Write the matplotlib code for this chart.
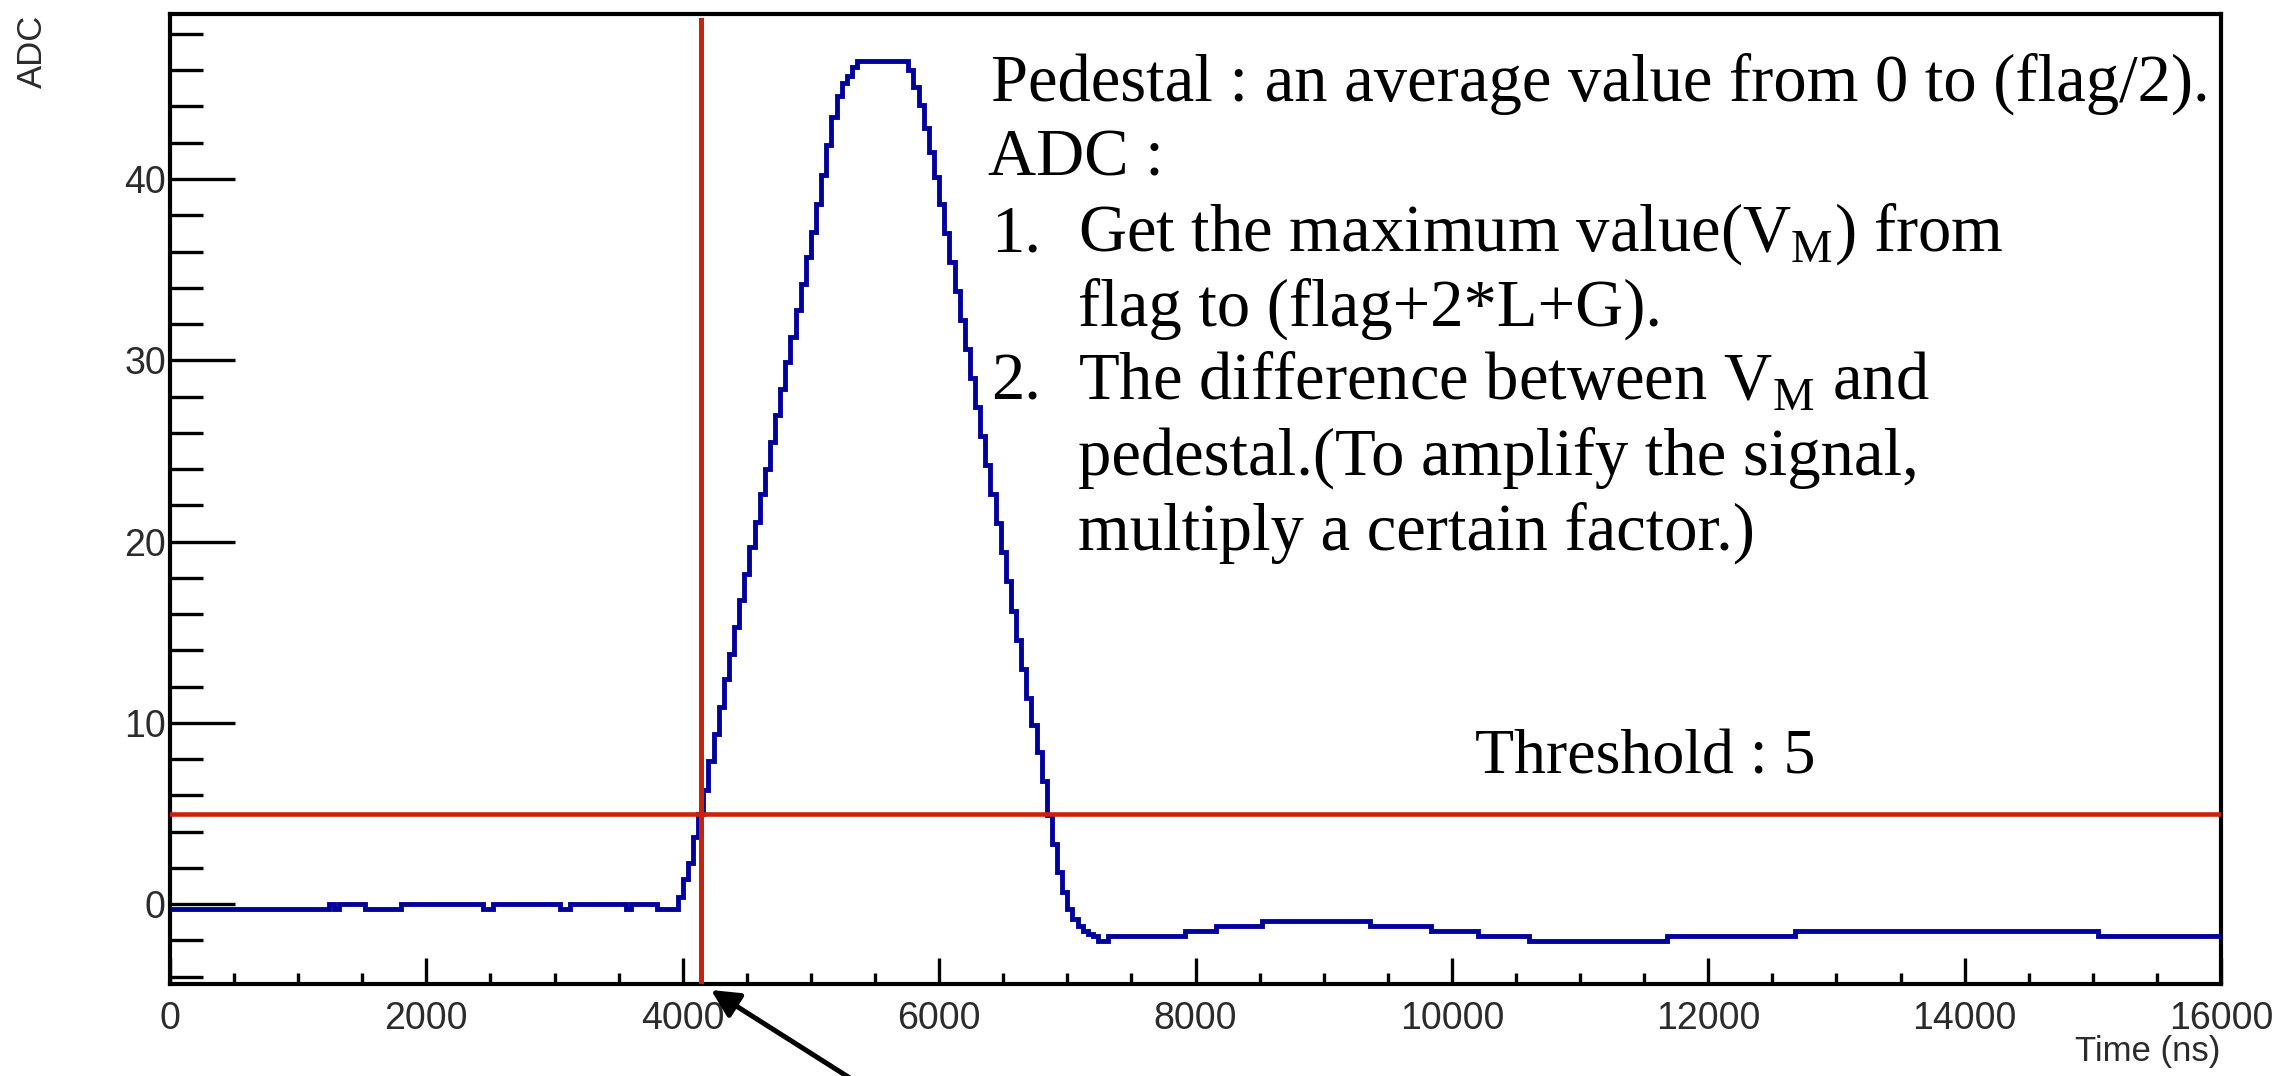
import matplotlib

matplotlib.use("Agg")
import matplotlib.pyplot as plt
from matplotlib.ticker import MultipleLocator

# waveform (ns, ADC); bins are 40 ns wide
baseline_t = [0, 1240, 1280, 1320, 1520, 1800, 2440, 2520, 3040, 3120, 3560, 3600, 3800]
baseline_v = [-0.28, 0.0, -0.28, 0.0, -0.28, 0.0, -0.28, 0.0, -0.28, 0.0, -0.28, 0.0, -0.28]

pulse_start = 3960
bin_ns = 40
rise_v = [0.4, 1.4, 2.3, 3.7, 5.0, 6.3, 7.9, 9.4, 10.9, 12.4, 13.8, 15.3, 16.8, 18.2,
          19.7, 21.1, 22.6, 24.0, 25.5, 27.0, 28.4, 29.9, 31.3, 32.8, 34.2, 35.7,
          37.1, 38.6, 40.2, 41.9, 43.4, 44.6, 45.3, 45.7, 46.2]
top_v = [46.5] * 10
fall_v = [46.0, 45.1, 44.1, 42.8, 41.5, 40.1, 38.6, 37.0, 35.4, 33.8, 32.2, 30.6,
          29.0, 27.4, 25.8, 24.2, 22.6, 21.0, 19.4, 17.8, 16.2, 14.6, 13.0, 11.4,
          9.9, 8.4, 6.8, 4.9, 3.3, 1.75, 0.65, -0.28, -0.83, -1.2, -1.47, -1.66,
          -1.75, -2.03, -2.03]

tail_t = [7320, 7920, 8160, 8520, 9360, 9840, 10200, 10600, 11680, 12680, 15040]
tail_v = [-1.75, -1.47, -1.2, -0.9, -1.2, -1.47, -1.75, -2.03, -1.75, -1.47, -1.75]

t_end = 16000
threshold = 5
flag_t = 4140

BLUE = "#00009c"
RED = "#c82208"
TICK_TXT = "#2b2b2b"

pulse_v = rise_v + top_v + fall_v
pulse_t = [pulse_start + bin_ns * i for i in range(len(pulse_v))]
edges = baseline_t + pulse_t + tail_t + [t_end]
levels = baseline_v + pulse_v + tail_v

plt.rcParams["mathtext.fontset"] = "custom"
plt.rcParams["mathtext.rm"] = "Liberation Serif"

W, H = 2290, 1076
fig = plt.figure(figsize=(W / 100, H / 100), dpi=100, facecolor="white")
ax = fig.add_axes([170 / W, 92 / H, (2221 - 170) / W, (984 - 14) / H])

ax.stairs(levels, edges, color=BLUE, lw=3.5, baseline=None, zorder=3)
ax.axhline(threshold, color=RED, lw=3.3, zorder=4)
ax.axvline(flag_t, ymax=0.994, color=RED, lw=3.6, zorder=4)

ax.set_xlim(0, t_end)
ax.set_ylim(-4.4, 49.1)

ax.xaxis.set_major_locator(MultipleLocator(2000))
ax.xaxis.set_minor_locator(MultipleLocator(500))
ax.yaxis.set_major_locator(MultipleLocator(10))
ax.yaxis.set_minor_locator(MultipleLocator(2))

for s in ax.spines.values():
    s.set_linewidth(3)
ax.tick_params(which="both", direction="in", top=False, right=False, color="black")
ax.tick_params(axis="y", which="major", length=47, width=2.4, pad=3,
               labelsize=27, labelcolor=TICK_TXT)
ax.tick_params(axis="y", which="minor", length=24, width=2.4)
ax.tick_params(axis="x", which="major", length=19, width=2.4, pad=12,
               labelsize=27, labelcolor=TICK_TXT)
ax.tick_params(axis="x", which="minor", length=8, width=2.4)
for lab in ax.get_xticklabels() + ax.get_yticklabels():
    lab.set_family("Liberation Sans")

fig.text(32 / W, 1 - 15 / H, "ADC", rotation=90, ha="center", va="top",
         fontsize=25, color=TICK_TXT, family="Liberation Sans")
fig.text(2220 / W, 1 - 1052 / H, "Time (ns)", ha="right", va="center",
         fontsize=25, color=TICK_TXT, family="Liberation Sans")

serif = dict(family="Liberation Serif", color="black", va="baseline")
lines = [
    (991, 101, "Pedestal : an average value from 0 to (flag/2).", 48),
    (988, 176, "ADC :", 48),
    (991, 251, "1.", 48),
    (1078, 251, r"Get the maximum value($\mathrm{V}_\mathrm{M}$) from", 48),
    (1078, 326, "flag to (flag+2*L+G).", 48),
    (991, 400, "2.", 48),
    (1078, 400, r"The difference between $\mathrm{V}_\mathrm{M}$ and", 48),
    (1078, 475, "pedestal.(To amplify the signal,", 48),
    (1078, 550, "multiply a certain factor.)", 48),
    (1475, 774, "Threshold : 5", 46),
]
for x, y, s, size in lines:
    fig.text(x / W, 1 - y / H, s, fontsize=size, **serif)

ax.annotate("", xy=(711, H - 990), xycoords="figure pixels",
            xytext=(853, H - 1080), textcoords="figure pixels",
            arrowprops=dict(arrowstyle="-|>", lw=3.6, color="black",
                            mutation_scale=42, shrinkA=0, shrinkB=0),
            annotation_clip=False)

fig.savefig("out.png", dpi=100, facecolor="white")
